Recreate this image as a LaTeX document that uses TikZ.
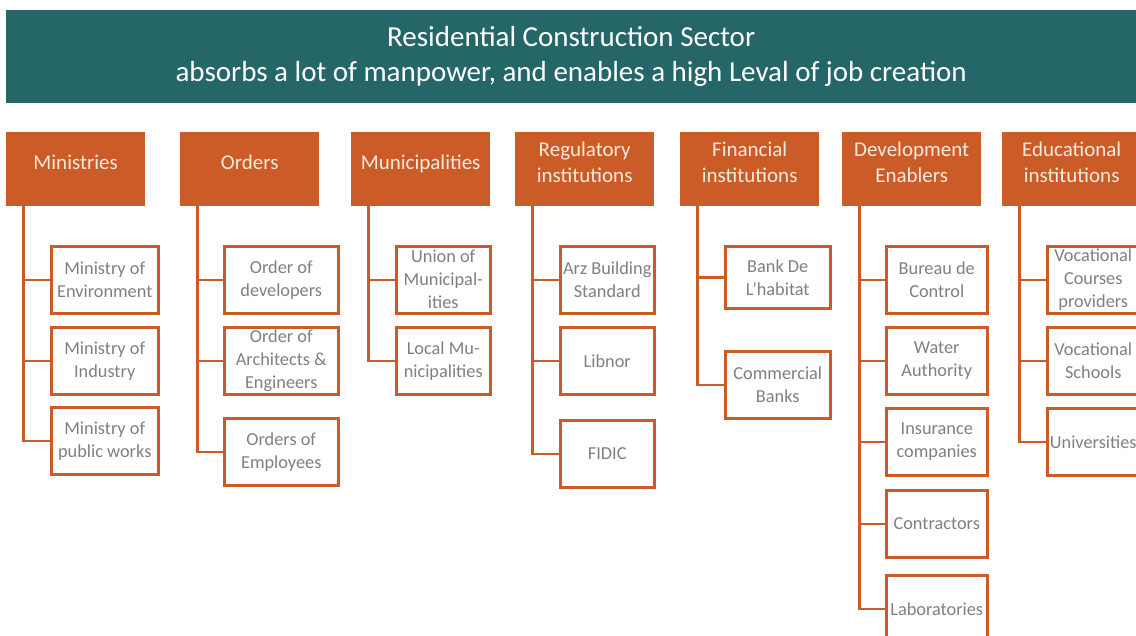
\documentclass[tikz,border=0pt]{standalone}
\usepackage{fontspec}
\setmainfont{Carlito}
\definecolor{headteal}{RGB}{37,102,104}
\definecolor{rust}{RGB}{203,91,39}
\definecolor{catwhite}{RGB}{250,234,222}
\definecolor{itemgray}{RGB}{128,128,128}

\begin{document}
\begin{tikzpicture}[x=1pt, y=-1pt,
        head/.style={rectangle, fill=headteal, text=white, font=\fontsize{29}{35}\selectfont, align=center, anchor=north west, minimum width=1130pt, minimum height=93pt},
        cat/.style={rectangle, fill=rust, text=catwhite, font=\fontsize{21}{26}\selectfont, align=center, anchor=north west, minimum width=139pt, minimum height=74pt, inner sep=1pt, text depth=14pt},
        item/.style={rectangle, draw=rust, line width=2.5pt, fill=white, text=itemgray, font=\fontsize{18.3}{23}\selectfont, align=center, anchor=north west, minimum height=67pt, inner sep=0pt},
        link/.style={draw=rust, line width=2.5pt}]

    \useasboundingbox (0,0) rectangle (1136,635);
    \clip (0,0) rectangle (1136,635);

    \node[head] (title) at (6,10) {Residential Construction Sector\\absorbs a lot of manpower, and enables a high Leval of job creation};

    % top row
    \node[cat] (min) at (6,132) {Ministries};
    \node[cat] (ord) at (180,132) {Orders};
    \node[cat] (mun) at (351,132) {Municipalities};
    \node[cat] (reg) at (515,132) {Regulatory\\institutions};
    \node[cat] (fin) at (680,132) {Financial\\institutions};
    \node[cat] (dev) at (842,132) {Development\\Enablers};
    \node[cat] (edu) at (1002,132) {Educational\\institutions};

    % ministries
    \node[item, minimum width=107pt] (min1) at (50,245) {Ministry of\\Environment};
    \node[item, minimum width=107pt] (min2) at (50,326) {Ministry of\\Industry};
    \node[item, minimum width=107pt] (min3) at (50,406) {Ministry of\\public works};

    % orders
    \node[item, minimum width=114pt] (ord1) at (223,245) {Order of\\developers};
    \node[item, minimum width=114pt] (ord2) at (223,326) {Order of\\Architects \&\\Engineers};
    \node[item, minimum width=114pt] (ord3) at (223,417) {Orders of\\Employees};

    % municipalities
    \node[item, minimum width=94pt] (mun1) at (395,245) {Union of\\Municipal-\\ities};
    \node[item, minimum width=94pt] (mun2) at (395,326) {Local Mu-\\nicipalities};

    % regulatory
    \node[item, minimum width=94pt] (reg1) at (559,245) {Arz Building\\Standard};
    \node[item, minimum width=94pt] (reg2) at (559,326) {Libnor};
    \node[item, minimum width=94pt] (reg3) at (559,419) {FIDIC};

    % financial
    \node[item, minimum width=105pt, minimum height=62pt] (fin1) at (724,245) {Bank De\\L’habitat};
    \node[item, minimum width=105pt] (fin2) at (724,350) {Commercial\\Banks};

    % development
    \node[item, minimum width=101pt] (dev1) at (885,245) {Bureau de\\Control};
    \node[item, minimum width=101pt] (dev2) at (885,326) {Water\\Authority};
    \node[item, minimum width=101pt] (dev3) at (885,407) {Insurance\\companies};
    \node[item, minimum width=101pt] (dev4) at (885,489) {Contractors};
    \node[item, minimum width=101pt] (dev5) at (885,574) {Laboratories};

    % educational
    \node[item, minimum width=92pt] (edu1) at (1046,245) {Vocational\\Courses\\providers};
    \node[item, minimum width=92pt] (edu2) at (1046,326) {Vocational\\Schools};
    \node[item, minimum width=92pt] (edu3) at (1046,407) {Universities};

    % connectors
    \foreach \c/\n in {min/3, ord/3, mun/2, reg/3, fin/2, dev/5, edu/3}
        \foreach \i in {1,...,\n}
            \draw[link] ([xshift=17.5pt]\c.south west) |- (\c\i.west);
\end{tikzpicture}
\end{document}
